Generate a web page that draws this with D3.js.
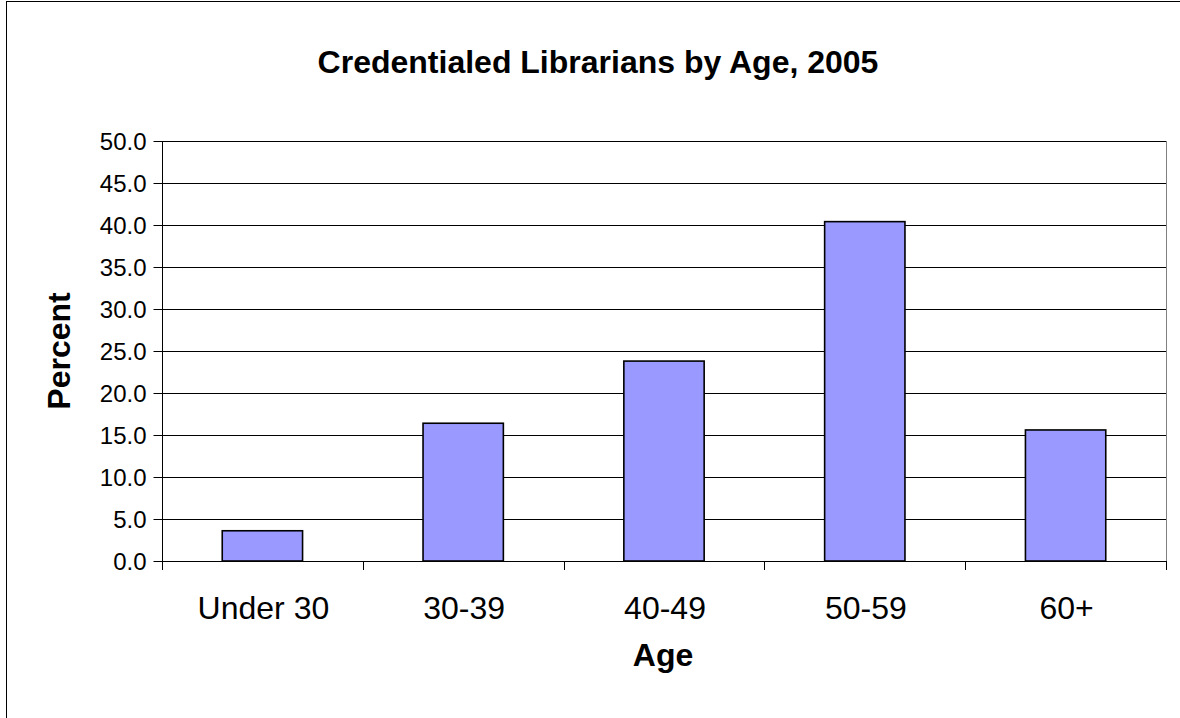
<!DOCTYPE html>
<meta charset="utf-8">
<style>
body { margin: 0; background: #fff; }
text { font-family: "Liberation Sans", Arial, sans-serif; }
</style>
<body>
<script src="https://cdnjs.cloudflare.com/ajax/libs/d3/7.8.5/d3.min.js"></script>
<script>

var ages = ["Under 30", "30-39", "40-49", "50-59", "60+"];
var percents = [3.6, 16.4, 23.8, 40.4, 15.6];
var yTicks = [0, 5, 10, 15, 20, 25, 30, 35, 40, 45, 50];

var width = 1180,
    height = 718;

var margin = {top: 141, right: 14, bottom: 157, left: 162};

var svg = d3.select("body").append("svg")
    .attr("width", width)
    .attr("height", height);

// outer chart frame
svg.append("rect")
    .attr("x", 6.5)
    .attr("y", 1.5)
    .attr("width", width + 20)
    .attr("height", height + 20)
    .attr("fill", "none")
    .attr("stroke", "#000")
    .attr("stroke-width", 1);

var x = d3.scaleBand()
    .domain(ages)
    .range([margin.left, width - margin.right])
    .paddingInner(0.6)
    .paddingOuter(0.3);

var y = d3.scaleLinear()
    .domain([0, 50])
    .range([height - margin.bottom, margin.top]);

// gridlines
svg.append("g")
    .selectAll("line")
    .data(yTicks.slice(1))
    .enter().append("line")
    .attr("x1", margin.left)
    .attr("x2", width - margin.right)
    .attr("y1", function(d) { return Math.round(y(d)) + 0.5; })
    .attr("y2", function(d) { return Math.round(y(d)) + 0.5; })
    .attr("stroke", "#000")
    .attr("stroke-width", 1);

// plot area right border (grey)
svg.append("line")
    .attr("x1", width - margin.right + 0.5)
    .attr("x2", width - margin.right + 0.5)
    .attr("y1", margin.top)
    .attr("y2", height - margin.bottom)
    .attr("stroke", "#808080");

// bars
svg.append("g")
    .selectAll("rect")
    .data(percents)
    .enter().append("rect")
    .attr("x", function(d, i) { return x(ages[i]); })
    .attr("y", function(d) { return y(d); })
    .attr("width", x.bandwidth())
    .attr("height", function(d) { return y(0) - y(d); })
    .attr("fill", "#9999ff")
    .attr("stroke", "#000")
    .attr("stroke-width", 1.6);

// y axis
var yAxis = svg.append("g")
    .attr("transform", "translate(" + (margin.left + 0.5) + ",0)")
    .call(d3.axisLeft(y)
        .tickValues(yTicks)
        .tickSize(9)
        .tickPadding(7)
        .tickFormat(d3.format(".1f")));
yAxis.select(".domain").attr("d", "M0," + (y(0) + 9) + "V" + margin.top);
yAxis.selectAll("text")
    .style("font-size", "24px")
    .attr("fill", "#000")
    .attr("dy", "0.36em");

// x axis with ticks between categories
var edges = d3.range(ages.length + 1).map(function(i) {
    return margin.left + i * (width - margin.left - margin.right) / ages.length;
});
svg.append("line")
    .attr("x1", margin.left)
    .attr("x2", width - margin.right)
    .attr("y1", Math.round(y(0)) + 0.5)
    .attr("y2", Math.round(y(0)) + 0.5)
    .attr("stroke", "#000");
svg.append("g")
    .selectAll("line")
    .data(edges)
    .enter().append("line")
    .attr("x1", function(d) { return Math.round(d) + 0.5; })
    .attr("x2", function(d) { return Math.round(d) + 0.5; })
    .attr("y1", y(0))
    .attr("y2", y(0) + 9)
    .attr("stroke", "#000");

svg.append("g")
    .selectAll("text")
    .data(ages)
    .enter().append("text")
    .attr("x", function(d) { return x(d) + x.bandwidth() / 2 + 1; })
    .attr("y", 619)
    .attr("text-anchor", "middle")
    .style("font-size", "32px")
    .text(function(d) { return d; });

// titles
svg.append("text")
    .attr("x", 598)
    .attr("y", 73)
    .attr("text-anchor", "middle")
    .style("font-size", "32px")
    .style("font-weight", "bold")
    .text("Credentialed Librarians by Age, 2005");

svg.append("text")
    .attr("x", 663)
    .attr("y", 666)
    .attr("text-anchor", "middle")
    .style("font-size", "32px")
    .style("font-weight", "bold")
    .text("Age");

svg.append("text")
    .attr("transform", "translate(70,351) rotate(-90)")
    .attr("text-anchor", "middle")
    .style("font-size", "32px")
    .style("font-weight", "bold")
    .text("Percent");

</script>
